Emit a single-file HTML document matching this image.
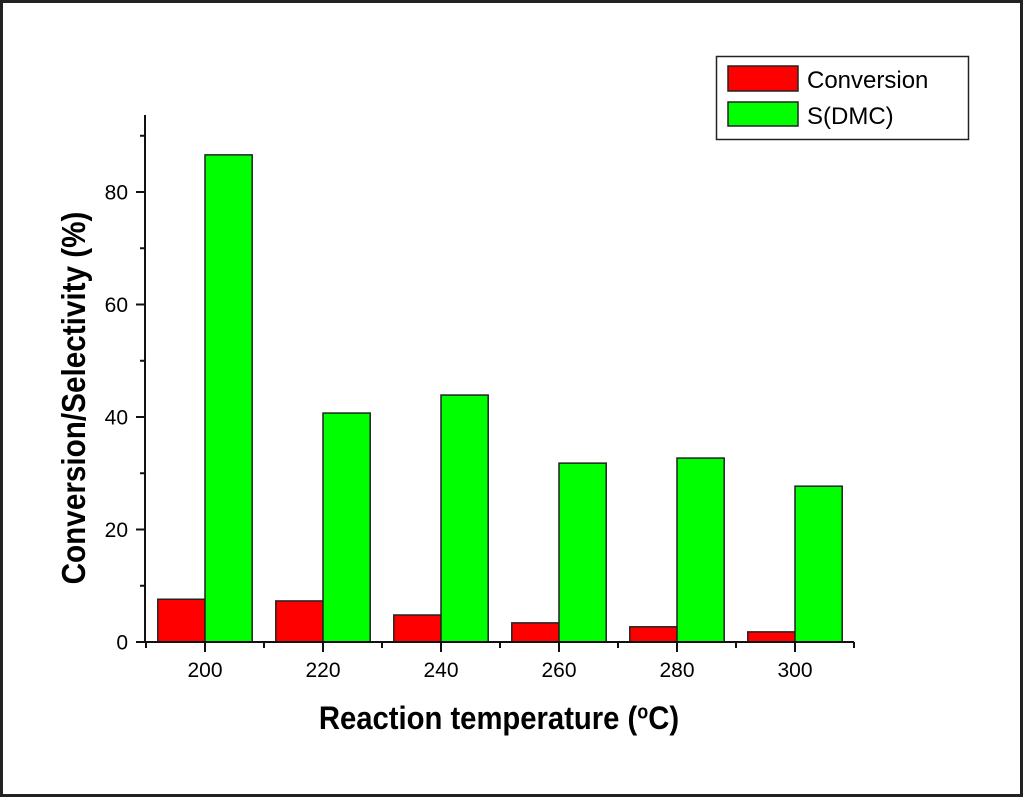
<!DOCTYPE html>
<html><head><meta charset="utf-8"><style>
html,body{margin:0;padding:0;background:#fff}
svg{display:block;font-family:"Liberation Sans",Arial,sans-serif}
</style></head><body>
<svg id="c" width="1024" height="798" viewBox="0 0 1024 798">
<rect x="1.5" y="1.5" width="1020" height="794" fill="#fff" stroke="#222" stroke-width="3"/>
<g id="bars"></g>
<g id="axes"></g>
<text x="0" y="0" text-anchor="middle" font-size="32.5" font-weight="bold" transform="translate(499 729) scale(0.9 1)">Reaction temperature (<tspan baseline-shift="super" font-size="20">o</tspan>C)</text>
<text x="0" y="0" text-anchor="middle" font-size="33" font-weight="bold" transform="translate(85 398) rotate(-90) scale(0.9 1)">Conversion/Selectivity (%)</text>
<g>
<rect x="716.5" y="56.5" width="252" height="83" fill="#fff" stroke="#222" stroke-width="1.5"/>
<rect x="728" y="66" width="70" height="25" fill="#ff0000" stroke="#222" stroke-width="1.5"/>
<text x="807" y="88" font-size="24">Conversion</text>
<rect x="728" y="102" width="70" height="24" fill="#00ff00" stroke="#222" stroke-width="1.5"/>
<text x="807" y="124" font-size="24">S(DMC)</text>
</g>
</svg>
<script>
const categories=[200,220,240,260,280,300];
const conversion=[7.6,7.3,4.8,3.4,2.7,1.8];
const selectivity=[86.6,40.7,43.9,31.8,32.7,27.7];
const yTicks=[0,20,40,60,80];
const yMinor=[10,30,50,70,90];
const xMinor=[190,210,230,250,270,290,310];
const NS='http://www.w3.org/2000/svg';
const X0=146,X1=854,XMIN=190,XMAX=310,Y0=642,YPER=5.625;
const xs=v=>X0+(v-XMIN)*(X1-X0)/(XMAX-XMIN);
const ys=v=>Y0-v*YPER;
const BW=8;
function mk(tag,attrs,parent){const e=document.createElementNS(NS,tag);for(const k in attrs)e.setAttribute(k,attrs[k]);parent.appendChild(e);return e;}
const bars=document.getElementById('bars'),axes=document.getElementById('axes');
categories.forEach((c,i)=>{
  let r=mk('rect',{x:xs(c-BW),y:ys(conversion[i]),width:xs(c)-xs(c-BW),height:Y0-ys(conversion[i]),fill:'#ff0000',stroke:'#222','stroke-width':1.5},bars);
  
  
  let g=mk('rect',{x:xs(c),y:ys(selectivity[i]),width:xs(c+BW)-xs(c),height:Y0-ys(selectivity[i]),fill:'#00ff00',stroke:'#222','stroke-width':1.5},bars);
  
  
});
let yl=mk('line',{x1:X0-1,y1:Y0,x2:X0-1,y2:115,stroke:'#111','stroke-width':2},axes);


let xl=mk('line',{x1:X0-2,y1:Y0,x2:X1,y2:Y0,stroke:'#111','stroke-width':2},axes);


yTicks.forEach(v=>{
  mk('line',{x1:X0-10,y1:ys(v),x2:X0-1,y2:ys(v),stroke:'#111','stroke-width':2},axes);
  let t=mk('text',{x:X0-18,y:ys(v)+7.5,'text-anchor':'end','font-size':21},axes);
  t.textContent=v;
  
  
});
yMinor.forEach(v=>mk('line',{x1:X0-6,y1:ys(v),x2:X0-1,y2:ys(v),stroke:'#111','stroke-width':2},axes));
categories.forEach(c=>{
  mk('line',{x1:xs(c),y1:Y0,x2:xs(c),y2:Y0+10,stroke:'#111','stroke-width':2},axes);
  let t=mk('text',{x:xs(c),y:Y0+35,'text-anchor':'middle','font-size':21},axes);
  t.textContent=c;
  
  
});
xMinor.forEach(v=>mk('line',{x1:xs(v),y1:Y0,x2:xs(v),y2:Y0+6,stroke:'#111','stroke-width':2},axes));
</script>
</body></html>
